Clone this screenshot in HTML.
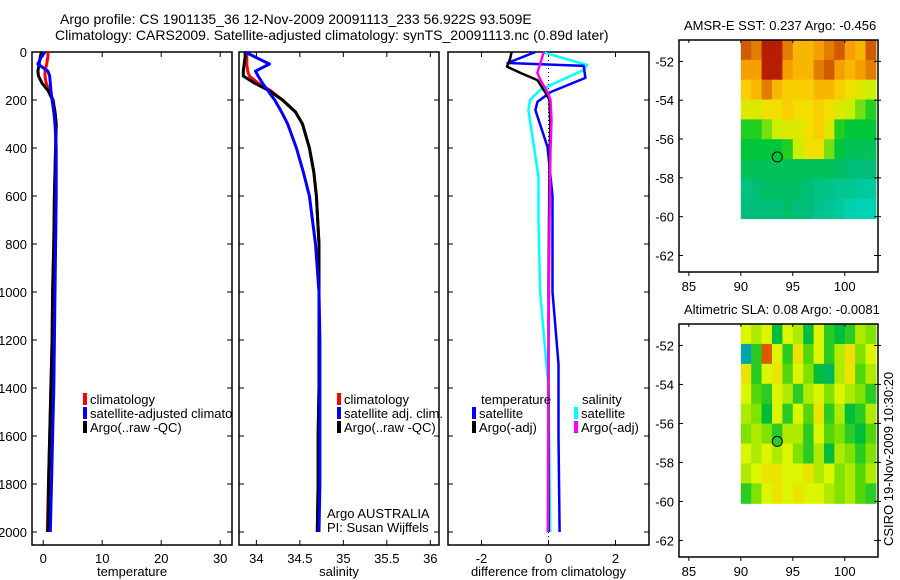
<!DOCTYPE html>
<html><head><meta charset="utf-8"><style>
html,body{margin:0;padding:0;background:#fff;}
svg{display:block;font-family:"Liberation Sans",sans-serif;}
text{fill:#000;}
</style></head><body>
<svg id="chart" width="900" height="580" viewBox="0 0 900 580" xmlns="http://www.w3.org/2000/svg">
<defs><clipPath id="p1clip"><rect x="32" y="52" width="200" height="493"/></clipPath></defs>
<text x="60" y="24" font-size="14">Argo profile: CS 1901135_36 12-Nov-2009 20091113_233 56.922S 93.509E</text>
<text x="55" y="40" font-size="14">Climatology: CARS2009. Satellite-adjusted climatology: synTS_20091113.nc (0.89d later)</text>
<g id="g"></g>
<text transform="translate(893,546) rotate(-90)" font-size="13">CSIRO 19-Nov-2009 10:30:20</text>
</svg>
<script>
// ---- profile data ----
const depths = [0,20,50,80,100,130,160,200,250,300,400,500,600,800,1000,1200,1400,1600,1800,2000];
const tempClim = [0.8,0.8,0.6,0.3,0.3,0.5,1.0,1.7,2.0,2.2,2.1,2.0,1.9,1.8,1.6,1.5,1.3,1.1,0.9,0.7];
const tempSat  = [0.3,-0.3,-0.9,0.8,1.1,1.2,1.3,1.5,1.8,2.0,2.2,2.2,2.2,2.1,2.0,1.9,1.8,1.6,1.4,1.2];
const tempArgo = [-0.3,-0.5,-0.7,-0.9,-0.8,-0.2,0.8,1.6,2.0,2.2,2.1,2.0,1.9,1.8,1.6,1.5,1.3,1.1,0.9,0.8];
const salClim = [33.89,33.89,33.89,33.9,33.92,34.02,34.16,34.3,34.45,34.53,34.61,34.66,34.69,34.72,34.72,34.72,34.72,34.71,34.71,34.70];
const salSat  = [33.87,33.98,34.15,33.99,34.02,34.07,34.13,34.21,34.29,34.36,34.46,34.54,34.61,34.68,34.72,34.73,34.73,34.73,34.73,34.72];
const salArgo = [33.87,33.87,33.86,33.85,33.85,33.98,34.14,34.3,34.45,34.53,34.61,34.66,34.69,34.72,34.72,34.72,34.72,34.71,34.71,34.70];
// ---- difference panel data ----
const diffDepthsT = [0,46,58,108,167,208,242,396,600,1000,1300,1600,2000];
const diffTempSat = [-0.39,-1.22,1.05,1.1,0.06,-0.33,-0.39,-0.03,0.12,0.12,0.3,0.3,0.33];
const diffDepthsA = [0,30,61,87,117,167,200,300,600,1000,1400,2000];
const diffTempArgo = [-1.1,-1.15,-1.24,-0.84,-0.33,-0.1,0.03,0.05,0.02,0.0,0.0,0.0];
const diffDepthsS = [3,54,75,158,200,242,520,700,1000,1400,2000];
const diffSalSat  = [-0.12,1.15,1.05,-0.25,-0.55,-0.6,-0.3,-0.3,-0.25,0.0,0.05];
const diffDepthsM = [0,87,117,167,200,283,408,700,1200,2000];
const diffSalArgo = [-0.14,-0.33,-0.24,-0.03,0.06,0.09,0.06,0.03,0.0,-0.02];
// ---- map data (rows top->bottom lat -51..-60, cols lon 90..103) ----
const sstRows = [
[0.85,0.8,0.95,0.95,0.8,0.7,0.7,0.75,0.8,0.85,0.75,0.7,0.85],
[0.75,0.75,0.95,0.95,0.75,0.7,0.7,0.8,0.85,0.75,0.7,0.75,0.8],
[0.65,0.7,0.8,0.7,0.65,0.65,0.65,0.7,0.7,0.65,0.6,0.55,0.5],
[0.55,0.55,0.6,0.6,0.65,0.6,0.6,0.65,0.6,0.55,0.5,0.45,0.4],
[0.4,0.4,0.45,0.5,0.55,0.55,0.6,0.65,0.55,0.4,0.35,0.35,0.35],
[0.35,0.35,0.35,0.35,0.4,0.5,0.6,0.6,0.45,0.35,0.3,0.3,0.3],
[0.3,0.3,0.3,0.3,0.3,0.3,0.3,0.3,0.3,0.28,0.25,0.25,0.25],
[0.22,0.25,0.28,0.28,0.28,0.28,0.25,0.22,0.2,0.18,0.18,0.15,0.15],
[0.25,0.25,0.25,0.25,0.28,0.25,0.25,0.2,0.18,0.15,0.1,0.08,0.08]];
const slaRows = [
[0.55,0.5,0.55,0.3,0.55,0.5,0.3,0.55,0.35,0.3,0.35,0.5,0.45],
[0.12,0.35,0.8,0.55,0.35,0.6,0.4,0.55,0.35,0.5,0.62,0.45,0.55],
[0.6,0.35,0.55,0.6,0.4,0.55,0.45,0.3,0.25,0.5,0.6,0.4,0.5],
[0.55,0.4,0.35,0.55,0.5,0.35,0.5,0.55,0.45,0.55,0.5,0.45,0.35],
[0.5,0.45,0.3,0.55,0.35,0.55,0.4,0.6,0.35,0.5,0.3,0.35,0.5],
[0.45,0.5,0.45,0.35,0.5,0.5,0.35,0.55,0.4,0.45,0.35,0.3,0.4],
[0.55,0.5,0.55,0.5,0.55,0.45,0.35,0.5,0.3,0.5,0.45,0.35,0.45],
[0.5,0.55,0.6,0.6,0.55,0.55,0.6,0.5,0.55,0.45,0.5,0.4,0.5],
[0.35,0.45,0.55,0.6,0.55,0.6,0.55,0.55,0.5,0.45,0.5,0.4,0.35]];
const depthTicks = [0,200,400,600,800,1000,1200,1400,1600,1800,2000];
const tempTicks = [0,10,20,30];
const salTicks = [34,34.5,35,35.5,36];
const salTickLabels = ["34","34.5","35","35.5","36"];
const diffTicks = [-2,0,2];
const latTicks = [-52,-54,-56,-58,-60,-62];
const lonTicks = [85,90,95,100];

const NS="http://www.w3.org/2000/svg";
const G=document.getElementById('g');
function mk(tag,attrs,parent){const e=document.createElementNS(NS,tag);for(const k in attrs)e.setAttribute(k,attrs[k]);(parent||G).appendChild(e);return e;}
const yD = d => 52 + d*0.24;
const PTOP=52, PBOT=545;

function panel(name,x0,x1,xmin,xmax,ticks,labels,xlabel,showY){
  const xs = v => x0 + (v-xmin)/(xmax-xmin)*(x1-x0);
  const frame = mk('rect',{x:x0,y:PTOP,width:x1-x0,height:PBOT-PTOP,fill:'none',stroke:'#000','stroke-width':1.5});
  
  
  depthTicks.forEach(d=>{
    const y=yD(d);
    const t1=mk('line',{x1:x0,x2:x0+5,y1:y,y2:y,stroke:'#000'});
    
    
    const t2=mk('line',{x1:x1-5,x2:x1,y1:y,y2:y,stroke:'#000'});
    
    
    if(showY){const t=mk('text',{x:x0-5,y:y+5,'font-size':13,'text-anchor':'end'});t.textContent=d;
      
      }
  });
  ticks.forEach((v,i)=>{
    const x=xs(v);
    const a=mk('line',{x1:x,x2:x,y1:PBOT,y2:PBOT-5,stroke:'#000'});
    
    
    const b=mk('line',{x1:x,x2:x,y1:PTOP,y2:PTOP+5,stroke:'#000'});
    
    
    const t=mk('text',{x:x,y:PBOT+18,'font-size':13,'text-anchor':'middle'});t.textContent=labels[i];
    
    
  });
  const xl=mk('text',{x:(x0+x1)/2,y:576,'font-size':13,'text-anchor':'middle'});xl.textContent=xlabel;
  
  
  return xs;
}
function line(xs,dArr,vArr,color,w,nm){
  const p=dArr.map((d,i)=>xs(vArr[i]).toFixed(1)+','+yD(d).toFixed(1)).join(' ');
  const e=mk('polyline',{points:p,fill:'none',stroke:color,'stroke-width':w,'stroke-linejoin':'round'});
  
  
}
function legend(x,y,color,label,nm,parent){
  const r=mk('rect',{x:x,y:y-11,width:4,height:12,fill:color},parent);
  
  
  const t=mk('text',{x:x+7,y:y,'font-size':13},parent);t.textContent=label;
  
  
}
function txt(x,y,s,nm,sz){const t=mk('text',{x:x,y:y,'font-size':sz||13});t.textContent=s;
  
  }

// Panel 1 temperature
const xT = panel('temperature-panel',32,232,-1.9,32,tempTicks,tempTicks.map(String),'temperature',true);
line(xT,depths,tempClim,'#f00',3,'temp-climatology-line');
line(xT,depths,tempArgo,'#000',3,'temp-argo-line');
line(xT,depths,tempSat,'#00f',3,'temp-satellite-line');
const lg1=mk('g',{'clip-path':'url(#p1clip)'});


legend(83,404,'#f00','climatology','legend-climatology',lg1);
legend(83,418,'#00f','satellite-adjusted climatology','legend-satellite-adjusted',lg1);
legend(83,432,'#000','Argo(..raw -QC)','legend-argo',lg1);

// Panel 2 salinity
const xS = panel('salinity-panel',239,439,33.8,36.1,salTicks,salTickLabels,'salinity',false);
line(xS,depths,salClim,'#f00',3,'sal-climatology-line');
line(xS,depths,salArgo,'#000',3,'sal-argo-line');
line(xS,depths,salSat,'#00f',3,'sal-satellite-line');
legend(337,404,'#f00','climatology','legend-sal-climatology');
legend(337,418,'#00f','satellite adj. clim.','legend-sal-satellite');
legend(337,432,'#000','Argo(..raw -QC)','legend-sal-argo');
txt(327,518,'Argo AUSTRALIA','argo-australia-label');
txt(327,532,'PI: Susan Wijffels','pi-label');

// Panel 3 differences
const xDf = panel('difference-panel',448,649,-3,3,diffTicks,diffTicks.map(String),'difference from climatology',false);
const zl=mk('line',{x1:xDf(0),x2:xDf(0),y1:PTOP,y2:PBOT,stroke:'#000','stroke-dasharray':'1,3'});


line(xDf,diffDepthsS,diffSalSat,'#0ff',2.5,'diff-sal-satellite-line');
line(xDf,diffDepthsT,diffTempSat,'#00f',2.5,'diff-temp-satellite-line');
line(xDf,diffDepthsA,diffTempArgo,'#000',2.5,'diff-temp-argo-line');
line(xDf,diffDepthsM,diffSalArgo,'#f0f',2.5,'diff-sal-argo-line');
txt(481,404,'temperature','legend-temperature-heading');
legend(472,418,'#00f','satellite','legend-diff-temp-satellite');
legend(472,432,'#000','Argo(-adj)','legend-diff-temp-argo');
txt(582,404,'salinity','legend-salinity-heading');
legend(574,418,'#0ff','satellite','legend-diff-sal-satellite');
legend(574,432,'#f0f','Argo(-adj)','legend-diff-sal-argo');

// colormaps
const sstStops=[[0,[0,220,210]],[0.25,[0,190,120]],[0.38,[0,200,40]],[0.5,[200,240,0]],[0.62,[250,220,0]],[0.75,[245,160,0]],[0.85,[210,90,0]],[1,[170,0,0]]];
const slaStops=[[0,[0,150,255]],[0.15,[0,170,150]],[0.3,[0,190,60]],[0.42,[100,220,0]],[0.55,[220,245,0]],[0.65,[250,210,0]],[0.8,[220,90,0]],[1,[180,0,0]]];
function cmap(stops,v){for(let i=1;i<stops.length;i++){if(v<=stops[i][0]){const a=stops[i-1],b=stops[i];const f=(v-a[0])/(b[0]-a[0]);const c=a[1].map((q,j)=>Math.round(q+(b[1][j]-q)*f));return 'rgb('+c.join(',')+')';}}return 'rgb('+stops[stops.length-1][1].join(',')+')';}

function mapPanel(name,top,bot,title,rows,stops){
  const x0=679,x1=878,lonMin=84.05,lonMax=103.2,latTop=-50.9,latBot=-62.85;
  const X=l=>x0+(l-lonMin)/(lonMax-lonMin)*(x1-x0);
  const Y=l=>top+(latTop-l)/(latTop-latBot)*(bot-top);
  rows.forEach((row,r)=>{
    row.forEach((v,c)=>{
      const lo0=90+c, lo1=Math.min(91+c,lonMax);
      const e=mk('rect',{x:X(lo0),y:Y(-50.9-r*1.022),width:X(lo1)-X(lo0)+0.5,height:Y(-50.9-(r+1)*1.022)-Y(-50.9-r*1.022)+0.5,fill:cmap(stops,v)});
      
      
    });
  });
  const fr=mk('rect',{x:x0,y:top,width:x1-x0,height:bot-top,fill:'none',stroke:'#000','stroke-width':1.5});
  
  
  latTicks.forEach(l=>{
    const y=Y(l);
    const a=mk('line',{x1:x0,x2:x0+4,y1:y,y2:y,stroke:'#000'});
    
    
    const b=mk('line',{x1:x1-4,x2:x1+3,y1:y,y2:y,stroke:'#000'});
    
    
    const t=mk('text',{x:x0-5,y:y+5,'font-size':13,'text-anchor':'end'});t.textContent=l;
    
    
  });
  lonTicks.forEach(l=>{
    const x=X(l);
    const a=mk('line',{x1:x,x2:x,y1:bot,y2:bot+4,stroke:'#000'});
    
    
    const b=mk('line',{x1:x,x2:x,y1:top,y2:top+3,stroke:'#000'});
    
    
    const t=mk('text',{x:x,y:bot+19,'font-size':13,'text-anchor':'middle'});t.textContent=l;
    
    
  });
  const tt=mk('text',{x:684,y:top-10,'font-size':13});tt.textContent=title;
  
  
  const r=Math.floor((-50.9+56.922)/1.022), c=Math.floor(93.509-90);
  const m=mk('circle',{cx:X(93.509),cy:Y(-56.922),r:5,fill:cmap(stops,rows[r][c]),stroke:'#000','stroke-width':1});
  
  
}
mapPanel('sst-map',40,272,'AMSR-E SST: 0.237 Argo: -0.456',sstRows,sstStops);
mapPanel('sla-map',324,557,'Altimetric SLA: 0.08 Argo: -0.0081',slaRows,slaStops);
</script>
</body></html>
